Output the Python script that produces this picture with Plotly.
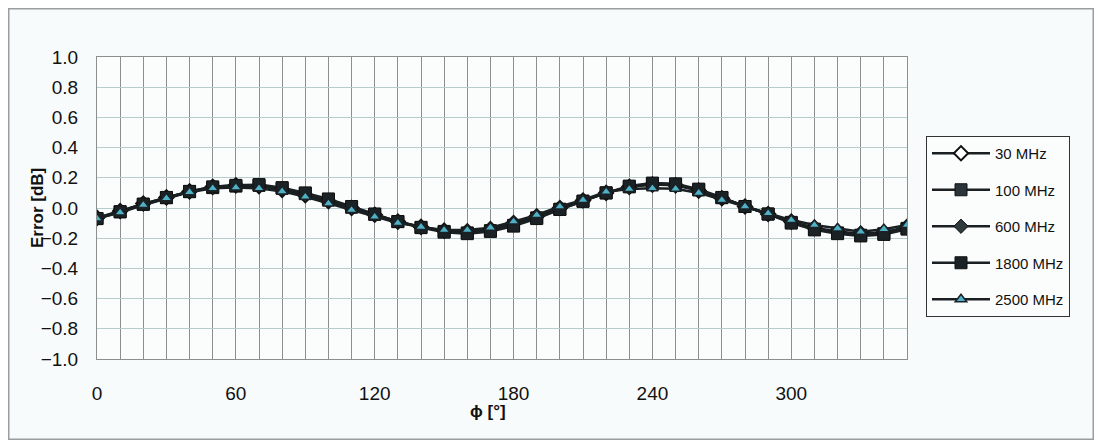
import plotly.graph_objects as go

phi = list(range(0, 360, 10))

err_30 = [-0.065, -0.02, 0.03, 0.07, 0.11, 0.14, 0.15, 0.145, 0.12, 0.085, 0.045, 0.0,
          -0.045, -0.09, -0.125, -0.15, -0.155, -0.14, -0.10, -0.055, 0.0, 0.05,
          0.10, 0.14, 0.155, 0.15, 0.115, 0.065, 0.01, -0.04, -0.09, -0.13,
          -0.155, -0.17, -0.16, -0.125]
err_100 = [-0.07, -0.025, 0.025, 0.068, 0.108, 0.135, 0.145, 0.15, 0.13, 0.095, 0.055, 0.005,
           -0.042, -0.09, -0.128, -0.155, -0.165, -0.15, -0.115, -0.065, -0.008, 0.045,
           0.10, 0.14, 0.16, 0.155, 0.12, 0.068, 0.01, -0.04, -0.095, -0.14,
           -0.165, -0.18, -0.17, -0.135]
err_600 = [-0.068, -0.022, 0.028, 0.068, 0.108, 0.138, 0.148, 0.148, 0.125, 0.09, 0.05, 0.003,
           -0.043, -0.09, -0.126, -0.152, -0.16, -0.145, -0.108, -0.06, -0.004, 0.048,
           0.10, 0.14, 0.158, 0.152, 0.118, 0.066, 0.01, -0.04, -0.092, -0.135,
           -0.16, -0.175, -0.165, -0.13]
err_1800 = [-0.07, -0.025, 0.025, 0.07, 0.11, 0.14, 0.15, 0.155, 0.135, 0.10, 0.06, 0.01,
            -0.04, -0.09, -0.13, -0.16, -0.17, -0.155, -0.12, -0.07, -0.01, 0.045,
            0.10, 0.145, 0.165, 0.16, 0.125, 0.07, 0.01, -0.04, -0.10, -0.145,
            -0.17, -0.185, -0.175, -0.14]
err_2500 = [-0.07, -0.03, 0.02, 0.065, 0.105, 0.13, 0.135, 0.13, 0.11, 0.075, 0.03, -0.013,
            -0.058, -0.10, -0.125, -0.146, -0.146, -0.13, -0.09, -0.046, 0.01, 0.053,
            0.108, 0.126, 0.13, 0.128, 0.10, 0.053, 0.01, -0.035, -0.08, -0.113,
            -0.135, -0.157, -0.14, -0.113]

series_names = ["30 MHz", "100 MHz", "600 MHz", "1800 MHz", "2500 MHz"]
series_values = [err_30, err_100, err_600, err_1800, err_2500]

x_tick_vals = list(range(0, 360, 10))
x_tick_text = [str(v) if v % 60 == 0 else "" for v in x_tick_vals]
y_tick_vals = [-1.0, -0.8, -0.6, -0.4, -0.2, 0.0, 0.2, 0.4, 0.6, 0.8, 1.0]

styles = [
    dict(symbol="diamond", size=11, color="white", line=dict(color="#111", width=2)),
    dict(symbol="square", size=12, color="#2b3438", line=dict(color="#111", width=1)),
    dict(symbol="diamond", size=11, color="#2e3a3e", line=dict(color="#111", width=1)),
    dict(symbol="square", size=12, color="#1b2226", line=dict(color="#111", width=1)),
    dict(symbol="triangle-up", size=10, color="#4fb0c6", line=dict(color="#1a2226", width=1.5)),
]

FONT = "Arial, 'Liberation Sans', sans-serif"

# page offset of 8px (body margin); layout measured in page pixels
OFF = 8
PL, PR, PT, PB = 97, 907, 57, 359
PW, PH = PR - PL, PB - PT
FIG_W, FIG_H = 1094 - OFF, 440 - OFF


def px(xp):
    return (xp - PL) / PW


def py(yp):
    return (PB - yp) / PH


fig = go.Figure()
for i, (name, vals) in enumerate(zip(series_names, series_values)):
    fig.add_trace(go.Scatter(
        x=phi, y=vals, name=name, mode="lines+markers",
        line=dict(color="#1a1f22", width=2.5),
        marker=styles[i], legendgroup=f"g{i}",
    ))

fig.update_layout(
    width=FIG_W, height=FIG_H,
    margin=dict(l=PL - OFF, r=FIG_W - (PR - OFF), t=PT - OFF, b=FIG_H - (PB - OFF)),
    paper_bgcolor="#f8fbfb", plot_bgcolor="#fbfdfd",
    font=dict(family=FONT, size=19, color="#111"),
    showlegend=True,
    legend=dict(
        x=px(926), y=py(136), xanchor="left", yanchor="top",
        bgcolor="#fbfdfd", bordercolor="#333", borderwidth=1,
        font=dict(family=FONT, size=15, color="#111"),
        tracegroupgap=14, traceorder="grouped",
        itemwidth=58,
    ),
    xaxis=dict(
        range=[0, 350], tickmode="array", tickvals=x_tick_vals, ticktext=x_tick_text,
        showgrid=True, gridcolor="#8a8f90", gridwidth=1.3,
        ticks="outside", ticklen=17, tickcolor="rgba(0,0,0,0)",
        zeroline=False, showline=True, linecolor="#8a8f90", mirror=True,
        tickfont=dict(size=19),
    ),
    yaxis=dict(
        range=[-1.0, 1.0], tickmode="array", tickvals=y_tick_vals, tickformat=".1f",
        showgrid=True, gridcolor="#b9cccc", gridwidth=1,
        ticks="outside", ticklen=14, tickcolor="rgba(0,0,0,0)",
        zeroline=False, showline=True, linecolor="#8a8f90", mirror=True,
        tickfont=dict(size=19),
    ),
    annotations=[
        dict(text="<b>Error [dB]</b>", xref="paper", yref="paper",
             x=px(37), y=py(208), textangle=-90,
             showarrow=False, font=dict(size=17, family=FONT),
             xanchor="center", yanchor="middle"),
        dict(text="<b>ϕ [°]</b>", xref="paper", yref="paper",
             x=px(488), y=py(412),
             showarrow=False, font=dict(size=17, family=FONT),
             xanchor="center", yanchor="middle"),
    ],
    shapes=[
        dict(type="rect", xref="paper", yref="paper",
             x0=px(OFF + 0.75), x1=px(1094 - 0.75),
             y0=py(440 - 0.75), y1=py(OFF + 0.75),
             line=dict(color="#9a9e9e", width=1.5), fillcolor="rgba(0,0,0,0)",
             layer="below"),
    ],
)

fig.write_html("out.html")
